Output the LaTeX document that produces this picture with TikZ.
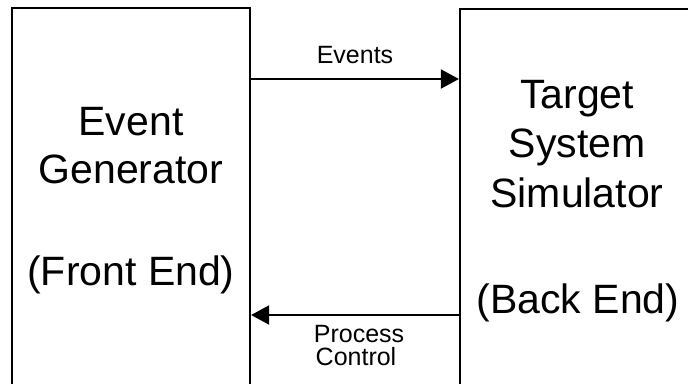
\documentclass[tikz,border=0pt]{standalone}
\usepackage{fontspec}
\setmainfont{Liberation Sans}
\usetikzlibrary{arrows.meta}
\tikzset{
  unit/.style={box/.style={draw, line width=2.2pt, rectangle, inner sep=0pt}},
  bigtext/.style={anchor=base, inner sep=0pt, font=\fontsize{41}{49}\selectfont},
  smalltext/.style={anchor=base, inner sep=0pt, font=\fontsize{25}{23}\selectfont},
  flow/.style={line width=2pt, -{Triangle[length=18pt,width=19pt]}},
}
\begin{document}
\begin{tikzpicture}[x=1pt, y=-1pt, unit]
  \useasboundingbox (0,0) rectangle (688,383);
  \fill[white] (0,0) rectangle (688,383);
  \clip (0,0) rectangle (688,383);

  % the two blocks (both run off the lower edge, the second also off the right edge)
  \node[box, minimum width=238pt, minimum height=392pt] (front) at (131,204) {};
  \node[box, minimum width=260pt, minimum height=391pt] (back) at (590,204.5) {};

  % block titles
  \node[bigtext] (fe1) at (131,135) {Event};
  \node[bigtext] (fe2) at (131,183) {Generator};
  \node[bigtext] (fe3) at (131,285) {(Front End)};

  \node[bigtext] (be1) at (577,108) {Target};
  \node[bigtext] (be2) at (577,157) {System};
  \node[bigtext] (be3) at (577,207) {Simulator};
  \node[bigtext] (be4) at (578,313) {(Back End)};

  % connector heights
  \coordinate (evrow) at (0,79);
  \coordinate (pcrow) at (0,315);

  \draw[flow] (front.east |- evrow) -- (back.west |- evrow);
  \draw[flow] (back.west |- pcrow) -- (front.east |- pcrow);

  % connector labels
  \node[smalltext] (evlabel) at (355,63) {Events};
  \node[smalltext] (pclabel1) at (359,342) {Process};
  \node[smalltext] (pclabel2) at (356,365) {Control};
\end{tikzpicture}
\end{document}
